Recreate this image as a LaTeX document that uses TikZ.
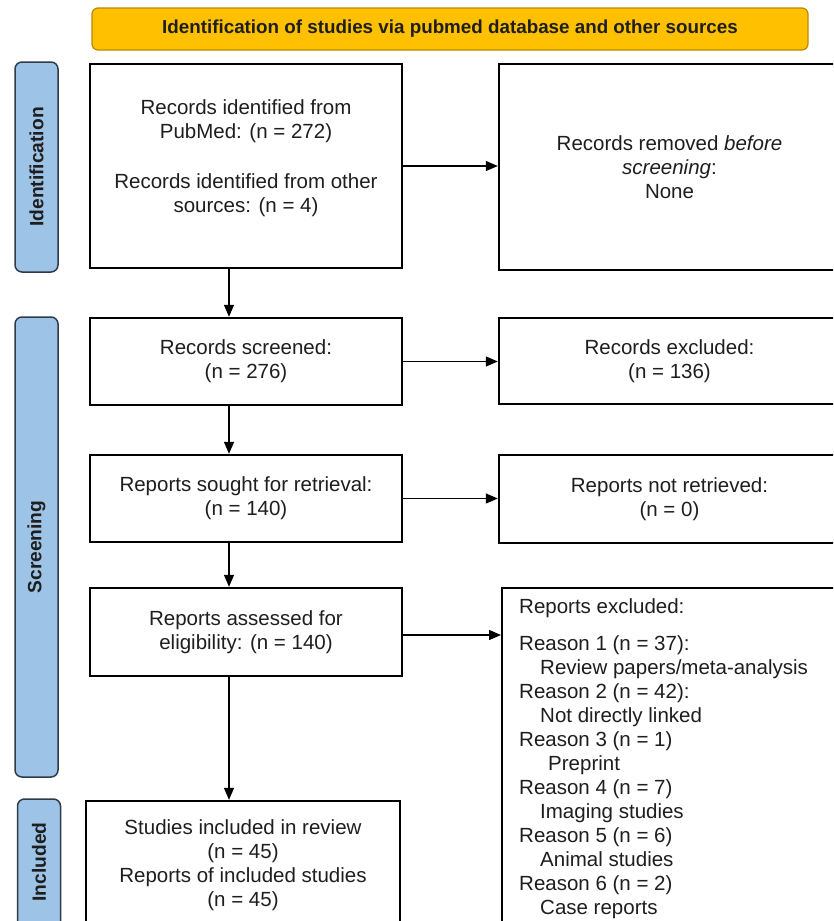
\documentclass[tikz,border=0pt]{standalone}
\usepackage{fontspec}
\setmainfont{Liberation Sans}
\usetikzlibrary{arrows.meta,positioning}

\definecolor{prgold}{HTML}{FFC000}
\definecolor{prgoldline}{HTML}{B98A00}
\definecolor{prblue}{HTML}{9DC3E6}
\definecolor{prblueline}{HTML}{2E3B48}
\definecolor{prtext}{HTML}{1E1E1E}

\begin{document}
\begin{tikzpicture}[x=1pt, y=-1pt,
  every node/.style={font=\fontsize{20.5}{24}\selectfont, text=prtext},
  box/.style={draw=black, line width=2.4pt, fill=white, align=center,
    inner sep=0pt, minimum width=312pt},
  sidebox/.style={draw=black, line width=2.4pt, fill=white, align=center,
    inner sep=0pt, minimum width=341pt},
  phase/.style={draw=prblueline, line width=1.5pt, fill=prblue,
    rounded corners=7pt, inner sep=0pt, minimum width=43pt},
  phaselabel/.style={rotate=90, font=\bfseries\fontsize{19.2}{22}\selectfont},
  arr/.style={-{Triangle[length=12pt,width=10pt]}, line width=1.3pt}]

  \path[use as bounding box, clip] (0,0) rectangle (833,921); %% page

  %% header
  \node[draw=prgoldline, line width=1.2pt, fill=prgold, rounded corners=6pt,
    minimum width=716pt, minimum height=42pt,
    font=\bfseries\fontsize{18.8}{22}\selectfont] (head) at (450,29)
    {Identification of studies via pubmed database and other sources};

  %% phases
  \node[phase, minimum height=210pt] (idphase) at (36.5,167) {};
  \node[phaselabel] at (idphase) {Identification};
  \node[phase, minimum height=460pt] (scphase) at (36.5,547) {};
  \node[phaselabel] at (scphase) {Screening};
  \node[phase, minimum height=136pt] (inphase) at (39,867) {};
  \node[phaselabel] at (39,862) {Included};

  %% main column
  \node[box, minimum height=204pt] (ident) at (246,166)
    {Records identified from\\ PubMed: (n = 272)\\[26pt]
     Records identified from other\\ sources: (n = 4)\\[-4pt]};
  \node[box, minimum height=87pt] (screened) at (246,361.5)
    {Records screened:\\ (n = 276)};
  \node[box, minimum height=87pt] (sought) at (246,498.5)
    {Reports sought for retrieval:\\ (n = 140)};
  \node[box, minimum height=88pt] (assessed) at (246,632)
    {Reports assessed for\\ eligibility: (n = 140)};
  \node[box, minimum width=314pt, minimum height=129pt] (incl) at (243,865.5)
    {Studies included in review\\ (n = 45)\\ Reports of included studies\\ (n = 45)};

  %% side column
  \node[sidebox, minimum height=206pt] (removed) at (669.5,167)
    {Records removed \textit{before}\\ \textit{screening}:\\ None};
  \node[sidebox, minimum height=86pt] (excluded) at (669.5,361)
    {Records excluded:\\ (n = 136)};
  \node[sidebox, minimum height=88pt] (notretr) at (669.5,499)
    {Reports not retrieved:\\ (n = 0)};
  \node[sidebox, minimum width=339pt, minimum height=343pt, anchor=north west]
    (repexcl) at (501,587) {};
  \node[anchor=north west, align=left, inner sep=0pt] (repexcltxt) at (519,598)
    {Reports excluded:\\[13pt]
     Reason 1 (n = 37):\\ \hspace*{21pt}Review papers/meta-analysis\\
     Reason 2 (n = 42):\\ \hspace*{21pt}Not directly linked\\
     Reason 3 (n = 1)\\ \hspace*{29pt}Preprint\\
     Reason 4 (n = 7)\\ \hspace*{21pt}Imaging studies\\
     Reason 5 (n = 6)\\ \hspace*{21pt}Animal studies\\
     Reason 6 (n = 2)\\ \hspace*{21pt}Case reports};

  %% connectors
  \coordinate (spine) at (229,0);
  \draw[arr] (ident.south -| spine) -- (screened.north -| spine);
  \draw[arr] (screened.south -| spine) -- (sought.north -| spine);
  \draw[arr] (sought.south -| spine) -- (assessed.north -| spine);
  \draw[arr] (assessed.south -| spine) -- (incl.north -| spine);

  \draw[arr] (ident.east) -- (ident.east -| removed.west);
  \draw[arr] (screened.east) -- (screened.east -| excluded.west);
  \draw[arr] (sought.east) -- (sought.east -| notretr.west);
  \draw[arr] ([yshift=-3pt]assessed.east) -- ([yshift=-3pt]assessed.east -| repexcl.west);

\end{tikzpicture}
\end{document}
